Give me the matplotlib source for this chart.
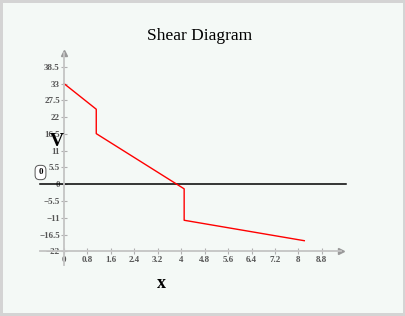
import matplotlib
matplotlib.use("Agg")
import matplotlib.pyplot as plt
from matplotlib.patches import Rectangle

# shear diagram data
x_pos = [0, 1.1, 1.1, 4.1, 4.1, 8.2]
shear = [33, 24.6, 16.6, -1.5, -11.8, -18.5]
x_ticks = [0, 0.8, 1.6, 2.4, 3.2, 4, 4.8, 5.6, 6.4, 7.2, 8, 8.8]
y_ticks = [-22, -16.5, -11, -5.5, 0, 5.5, 11, 16.5, 22, 27.5, 33, 38.5]

W, H = 406, 316
fig = plt.figure(figsize=(W / 100, H / 100), dpi=100, facecolor="#d4d4d4")
fig.patches.append(Rectangle((3 / W, 3 / H), 400 / W, 310 / H, transform=fig.transFigure,
                             facecolor="#f4f9f6", edgecolor="none", zorder=-5))

# axes box in pixels: x 40..341.5, y 53..265
ax = fig.add_axes([40 / W, 1 - 265.1 / H, 301.5 / W, 212 / H])
ax.set_facecolor("none")
ax.set_xlim(-0.82, 9.47)
ax.set_ylim(-26.5, 43)

for s in ["top", "right"]:
    ax.spines[s].set_visible(False)
ax.spines["left"].set_position(("data", 0))
ax.spines["bottom"].set_position(("data", -22))
for s in ["left", "bottom"]:
    ax.spines[s].set_color("#c4c4c4")
    ax.spines[s].set_linewidth(1.3)

# arrow heads at axis ends
ax.plot(9.47, -22, marker=">", color="#999999", ms=4, clip_on=False)
ax.plot(0, 43, marker="^", color="#999999", ms=4, clip_on=False)

ax.set_xticks(x_ticks)
ax.set_yticks(y_ticks)
ax.set_xticklabels([f"{t:g}" for t in x_ticks])
ax.set_yticklabels([f"{t:g}".replace("-", "\u2212") for t in y_ticks])
ax.tick_params(direction="inout", length=4, width=0.8, color="#b0b0b0",
               labelsize=6.5, labelcolor="#555555", pad=1)
for lab in ax.get_xticklabels() + ax.get_yticklabels():
    lab.set_fontfamily("Liberation Serif")
    lab.set_fontweight("bold")

# zero line
ax.plot([-0.82, 9.62], [0, 0], color="black", lw=1.1, clip_on=False)
ax.plot(x_pos, shear, color="red", lw=1.0)

fig.text(200 / W, 1 - 36 / H, "Shear Diagram", ha="center", va="center",
         fontsize=12.5, family="Liberation Serif")
fig.text(56.5 / W, 1 - 142 / H, "V", ha="center", va="center", fontsize=14,
         family="Liberation Serif", fontweight="bold")
fig.text(161 / W, 1 - 284 / H, "x", ha="center", va="center", fontsize=13,
         family="Liberation Serif", fontweight="bold")
fig.text(40.5 / W, 1 - 172.5 / H, "0", ha="center", va="center", fontsize=6.5,
         family="Liberation Serif", fontweight="bold",
         bbox=dict(boxstyle="round,pad=0.35,rounding_size=0.5", facecolor="white",
                   edgecolor="#555555", lw=0.7))

fig.savefig("out.png", dpi=100, facecolor=fig.get_facecolor())
